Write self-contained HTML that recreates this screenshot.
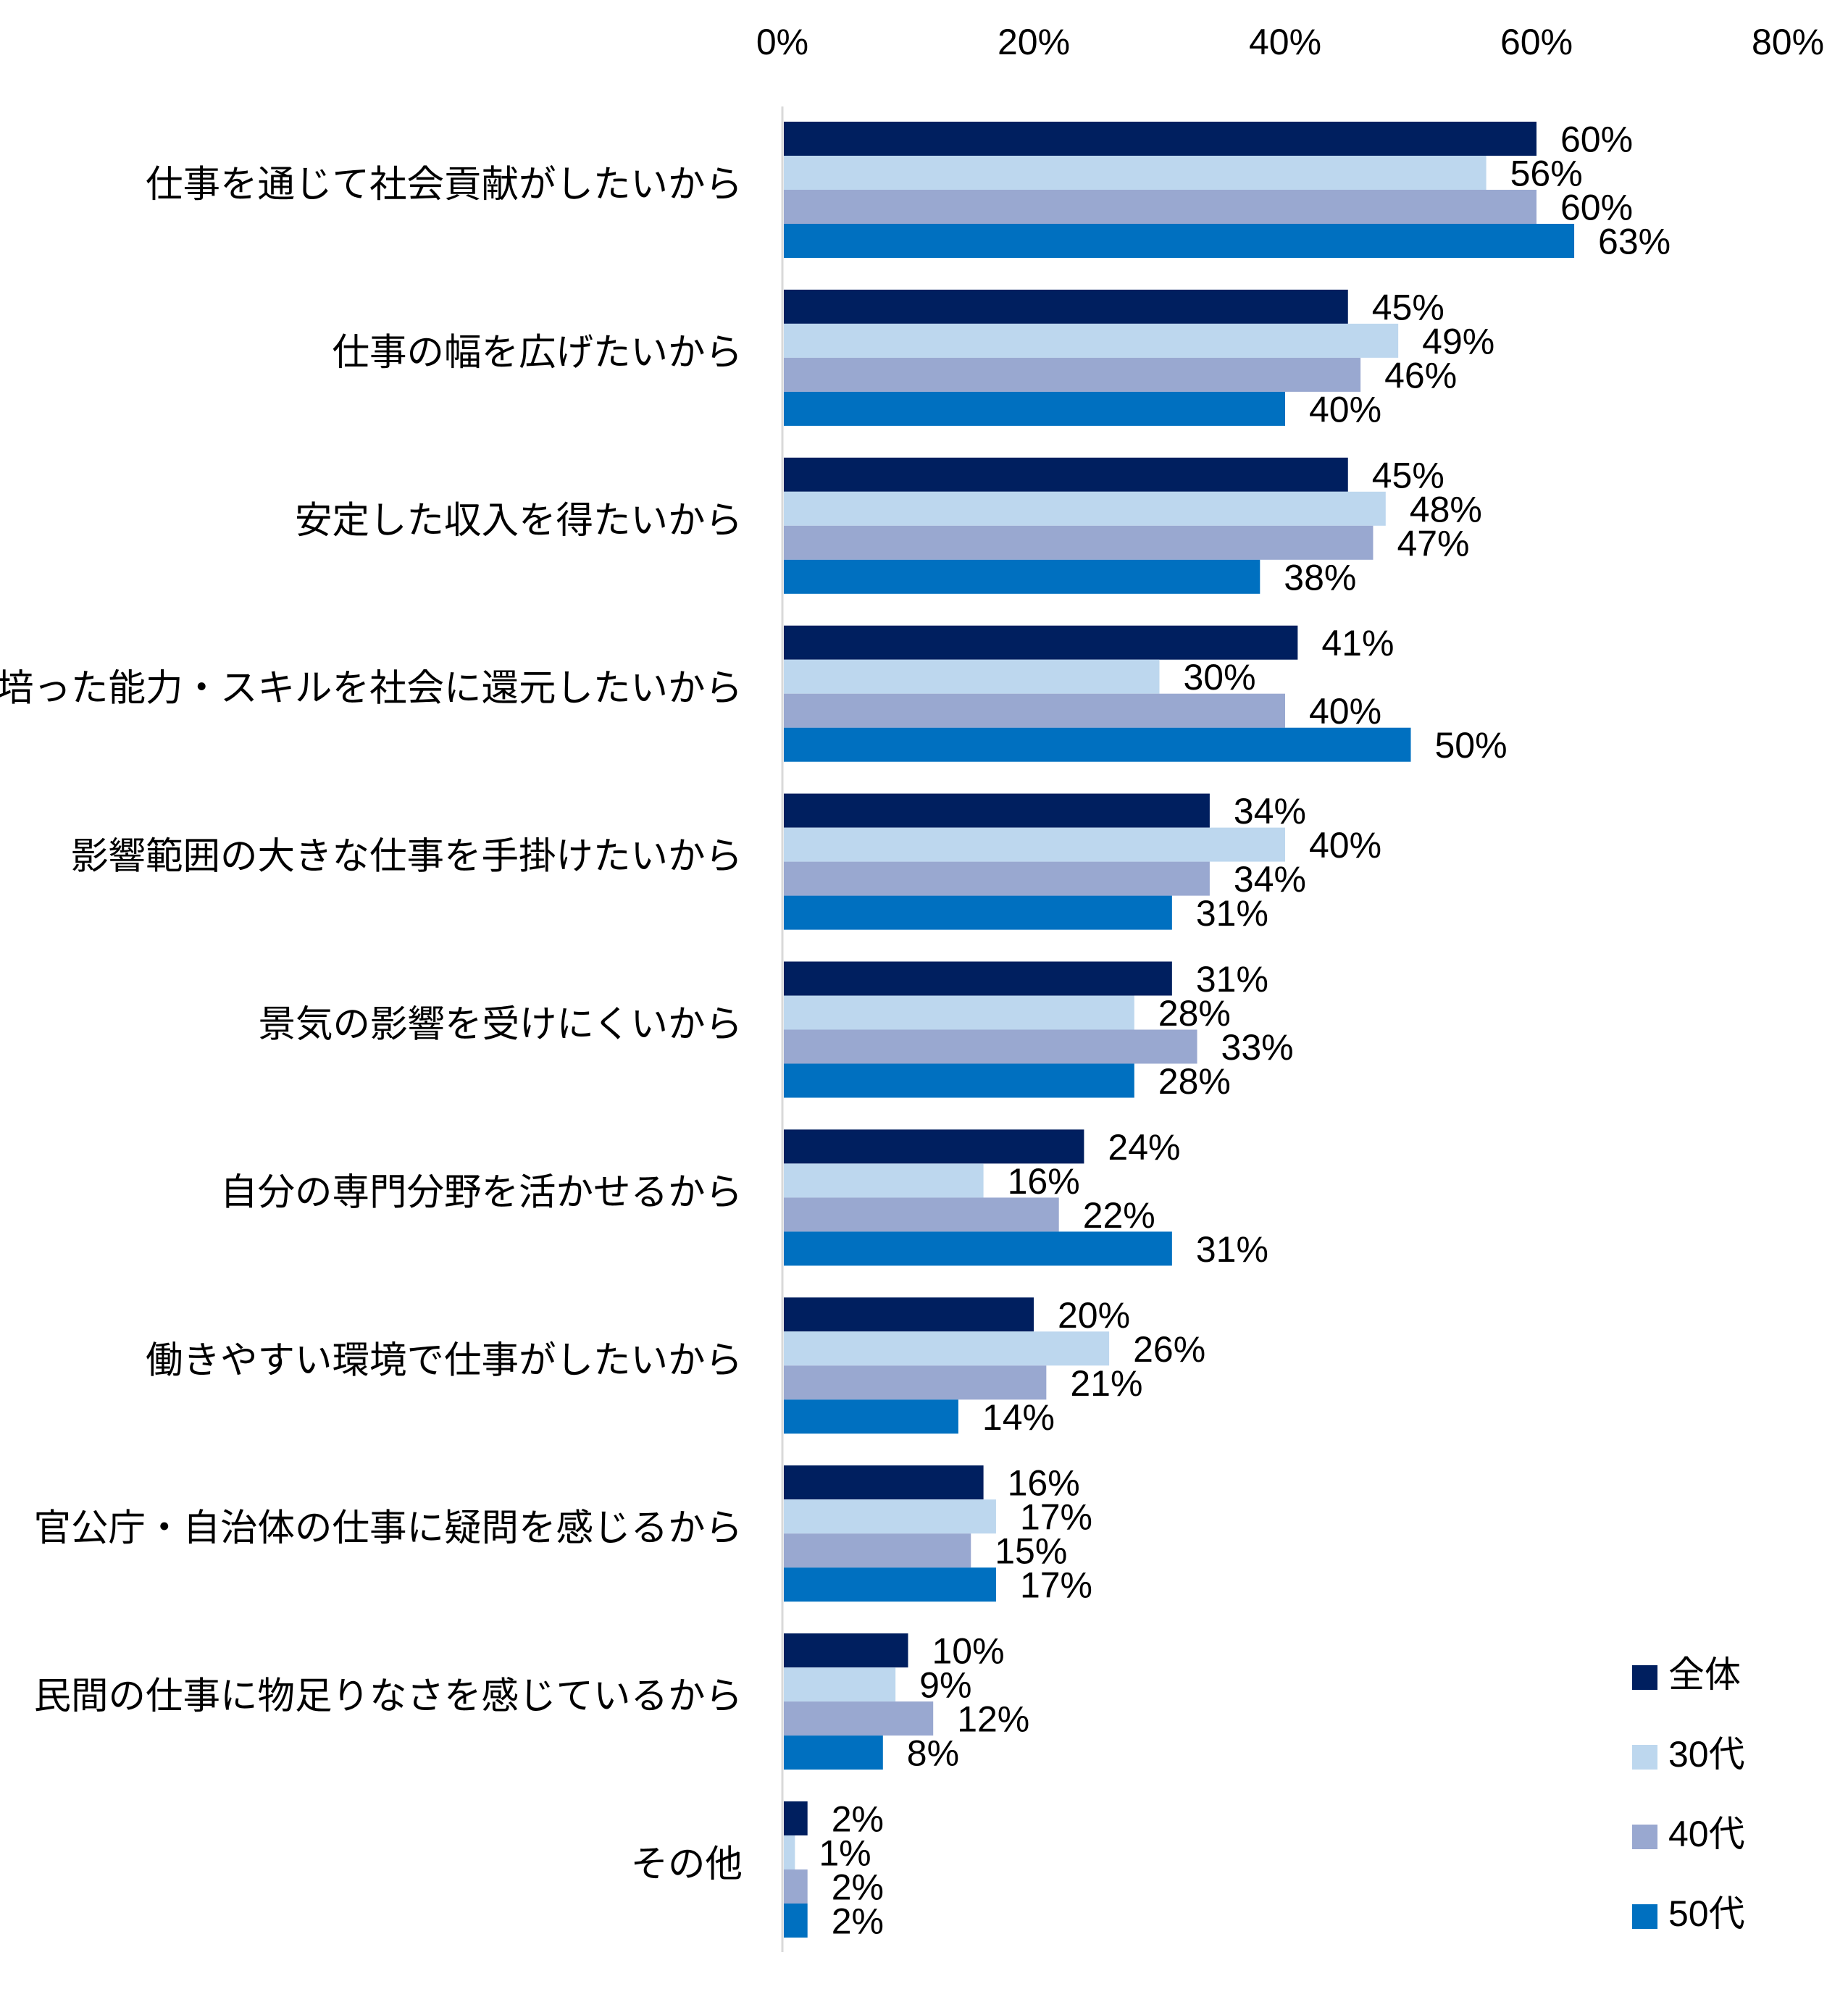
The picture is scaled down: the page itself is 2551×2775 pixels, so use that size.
<!DOCTYPE html>
<html><head><meta charset="utf-8"><style>
html,body{margin:0;padding:0;background:#fff;}
svg text{font-family:"Liberation Sans","Noto Sans CJK JP",sans-serif;fill:#000;}
</style></head><body>
<svg id="chart" width="2551" height="2770" viewBox="0 0 2551 2770" xmlns="http://www.w3.org/2000/svg"></svg>
<script>
const categories=["仕事を通じて社会貢献がしたいから","仕事の幅を広げたいから","安定した収入を得たいから","培った能力・スキルを社会に還元したいから","影響範囲の大きな仕事を手掛けたいから","景気の影響を受けにくいから","自分の専門分野を活かせるから","働きやすい環境で仕事がしたいから","官公庁・自治体の仕事に疑問を感じるから","民間の仕事に物足りなさを感じているから","その他"];
const seriesNames=["全体","30代","40代","50代"];
const allValues=[60,45,45,41,34,31,24,20,16,10,2];
const s30Values=[56,49,48,30,40,28,16,26,17,9,1];
const s40Values=[60,46,47,40,34,33,22,21,15,12,2];
const s50Values=[63,40,38,50,31,28,31,14,17,8,2];
const tickLabels=["0%","20%","40%","60%","80%"];
const tickValues=[0,20,40,60,80];
const series=[allValues,s30Values,s40Values,s50Values];
const colors=["#001f5f","#bdd7ee","#99a8d0","#0070c0"];
const NS="http://www.w3.org/2000/svg";
const svg=document.getElementById('chart');
const x0=1080, pxPer=17.35;
const xScale=v=>x0+v*pxPer;
const groupTop=i=>168+i*231.9;
const barH=47;
function mk(tag,attrs){const e=document.createElementNS(NS,tag);for(const k in attrs)e.setAttribute(k,attrs[k]);svg.appendChild(e);return e;}
let ax=mk('line',{x1:x0,y1:147,x2:x0,y2:2695,stroke:'#d9d9d9','stroke-width':3});


tickValues.forEach((v,i)=>{
  const t=mk('text',{x:xScale(v),y:75,'text-anchor':'middle','font-size':50});
  t.textContent=tickLabels[i];
  
  
});
categories.forEach((c,i)=>{
  const gt=groupTop(i);
  const t=mk('text',{x:1025,y:gt+87+17,'text-anchor':'end','font-size':51.5});
  t.textContent=c;
  
  
  series.forEach((s,j)=>{
    const y=gt+j*barH;
    const r=mk('rect',{x:x0+2,y:y,width:Math.max(0,xScale(s[i])-x0-2),height:barH,fill:colors[j]});
    
    
    const l=mk('text',{x:xScale(s[i])+33,y:y+barH/2+18,'font-size':50});
    l.textContent=s[i]+'%';
    
    
  });
});
seriesNames.forEach((n,j)=>{
  const cy=2312+j*110;
  const r=mk('rect',{x:2253,y:cy-13,width:35,height:34,fill:colors[j]});
  
  
  const t=mk('text',{x:2303,y:cy+17,'font-size':50});
  t.textContent=n;
  
  
});
</script>
</body></html>
